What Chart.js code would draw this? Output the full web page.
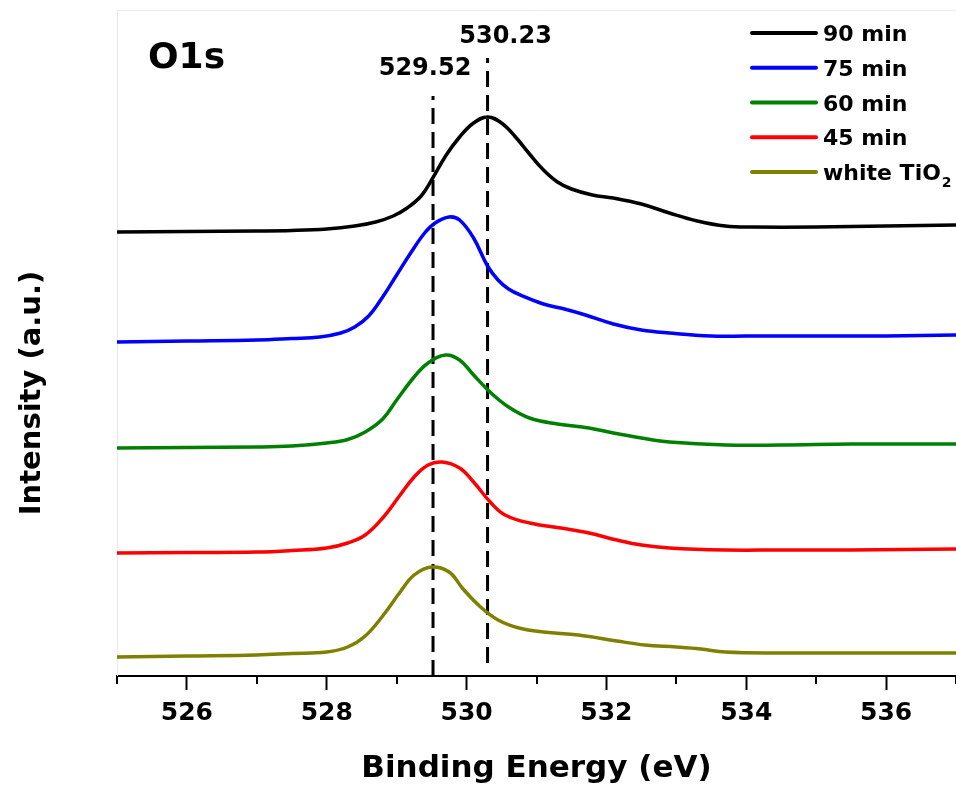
<!DOCTYPE html>
<html><head><meta charset="utf-8">
<script src="https://cdn.jsdelivr.net/npm/chart.js@4/dist/chart.umd.min.js"></script>
<style>html,body{margin:0;padding:0;background:#fff}#wrap{width:956px;height:790px}</style>
</head><body><div id="wrap"><canvas id="c" width="956" height="790"></canvas></div>
<script>
// ---- data (binding energy in eV, intensity in a.u., curves offset vertically) ----
const seriesLabels = ['90 min', '75 min', '60 min', '45 min', 'white TiO\u2082'];
const seriesColors = ['#000000', '#0000ff', '#008000', '#ff0000', '#808000'];

const energy90 = [525, 526, 527, 527.5, 528, 528.4, 528.7, 528.95, 529.15, 529.35, 529.5, 529.7, 529.9, 530.1, 530.3, 530.5, 530.7, 530.9, 531.1, 531.3, 531.5, 531.8, 532.1, 532.5, 532.9, 533.3, 533.7, 534.1, 535, 536, 537];
const intensity90 = [444, 444.5, 445, 445.5, 447, 450, 454, 460, 468, 480, 496, 520, 539, 553, 559, 553, 539, 522, 506, 494, 487, 481, 478, 472, 463, 455, 450, 449, 449, 450, 451];

const energy75 = [525, 526, 527, 527.5, 527.9, 528.2, 528.4, 528.6, 528.8, 529.0, 529.2, 529.4, 529.55, 529.75, 529.9, 530.1, 530.3, 530.45, 530.6, 530.8, 531.1, 531.4, 531.7, 532.1, 532.5, 532.9, 533.5, 534, 535, 536, 537];
const intensity75 = [334, 335, 336, 337.5, 339, 343, 349, 360, 379, 401, 423, 443, 453, 459, 456, 438, 410, 396, 387, 380, 372, 367, 361, 352, 346, 343, 340, 340, 340, 340, 341];

const energy60 = [525, 526, 527, 527.5, 528, 528.3, 528.55, 528.8, 529.0, 529.25, 529.45, 529.7, 529.9, 530.1, 530.35, 530.6, 530.9, 531.3, 531.75, 532.1, 532.5, 532.9, 533.7, 534.5, 535.5, 537];
const intensity60 = [228, 228.5, 229, 230, 233, 236.5, 244, 257, 276, 299, 313, 321, 316, 301, 283, 269, 258, 252, 248, 243, 238, 234, 231, 231, 232, 232];

const energy45 = [525, 526, 527, 527.5, 528, 528.3, 528.55, 528.8, 529.05, 529.25, 529.45, 529.65, 529.9, 530.1, 530.35, 530.55, 530.9, 531.35, 531.75, 532.15, 532.5, 532.9, 533.7, 534.5, 535.5, 537];
const intensity45 = [123, 123.5, 124, 125.5, 128, 133, 141, 158, 181, 199, 211, 214, 208, 194, 173, 161, 153, 148, 143, 136, 131, 128, 126, 126, 126, 127];

const energyWhite = [525, 526, 527, 527.5, 528, 528.3, 528.55, 528.8, 529.05, 529.25, 529.5, 529.75, 529.95, 530.2, 530.45, 530.75, 531.1, 531.6, 532.15, 532.55, 533.0, 533.35, 533.7, 534.5, 535.5, 537];
const intensityWhite = [19, 20, 21, 22.5, 24, 29, 40, 60, 84, 101, 109, 104, 87, 69, 56, 48, 44, 41, 35, 31, 29, 27, 24, 23, 23, 23];

// reference peak positions (dashed lines) and their labels
const peakPositions = [529.52, 530.3];
const peakLabels = ['529.52', '530.23'];
const peakLineTop = [580, 618];
const peakLineBottom = [0, 13];

const xTicks = [526, 528, 530, 532, 534, 536];
const panelLabel = 'O1s';

// ---- build ----
const energies = [energy90, energy75, energy60, energy45, energyWhite];
const intensities = [intensity90, intensity75, intensity60, intensity45, intensityWhite];
const FONT = '"DejaVu Sans", "Liberation Sans", Arial, sans-serif';

const datasets = seriesLabels.map((lab, i) => ({
  label: lab,
  data: energies[i].map((e, k) => ({x: e, y: intensities[i][k]})),
  borderColor: seriesColors[i],
  backgroundColor: seriesColors[i],
  borderWidth: 3.5,
  pointRadius: 0,
  tension: 0.4,
  fill: false
}));
peakPositions.forEach((p, i) => {
  datasets.push({
    label: 'peak ' + peakLabels[i],
    data: [{x: p, y: peakLineBottom[i]}, {x: p, y: peakLineTop[i]}],
    borderColor: '#000',
    borderWidth: 3,
    borderDash: [16, 8],
    pointRadius: 0,
    tension: 0,
    fill: false
  });
});

function drawCapCentered(ctx, text, x, cy, align) {
  ctx.textAlign = align;
  ctx.textBaseline = 'alphabetic';
  const m = ctx.measureText(text);
  ctx.fillText(text, x, cy + m.actualBoundingBoxAscent / 2);
}

const decor = {
  id: 'decor',
  beforeDatasetsDraw(chart) {
    const {ctx, chartArea: a} = chart;
    ctx.save();
    ctx.strokeStyle = '#ebe7eb';
    ctx.lineWidth = 1;
    ctx.beginPath();
    ctx.moveTo(a.left, a.top + 0.5);
    ctx.lineTo(a.right, a.top + 0.5);
    ctx.stroke();
    ctx.restore();
  },
  afterDraw(chart) {
    const {ctx, chartArea: a} = chart;
    const xs = chart.scales.x;
    ctx.save();
    // minor ticks (odd eV)
    ctx.strokeStyle = '#000';
    ctx.lineWidth = 2;
    for (let v = Math.ceil(xs.min); v <= xs.max; v++) {
      if (xTicks.includes(v)) continue;
      const px = Math.round(xs.getPixelForValue(v));
      ctx.beginPath();
      ctx.moveTo(px, a.bottom);
      ctx.lineTo(px, a.bottom + 8);
      ctx.stroke();
    }
    ctx.fillStyle = '#000';
    // panel label
    ctx.font = 'bold 36px ' + FONT;
    drawCapCentered(ctx, panelLabel, 148, 55, 'left');
    // peak labels
    ctx.font = 'bold 24px ' + FONT;
    drawCapCentered(ctx, peakLabels[0], xs.getPixelForValue(peakPositions[0]) - 8, 66, 'center');
    drawCapCentered(ctx, peakLabels[1], xs.getPixelForValue(peakPositions[1]) + 18, 34, 'center');
    // y axis title
    ctx.save();
    ctx.translate(29, 393);
    ctx.rotate(-Math.PI / 2);
    ctx.font = 'bold 29px ' + FONT;
    drawCapCentered(ctx, 'Intensity (a.u.)', 0, 0, 'center');
    ctx.restore();
    // legend
    const x0 = 752, x1 = 816, tx = 823, y0 = 33, dy = 34.75;
    seriesLabels.forEach((lab, i) => {
      const y = y0 + i * dy;
      ctx.strokeStyle = seriesColors[i];
      ctx.lineWidth = 4;
      ctx.lineCap = 'round';
      ctx.beginPath();
      ctx.moveTo(x0, y);
      ctx.lineTo(x1, y);
      ctx.stroke();
      ctx.fillStyle = '#000';
      ctx.font = 'bold 22px ' + FONT;
      ctx.textAlign = 'left';
      ctx.textBaseline = 'alphabetic';
      const capH = ctx.measureText('9').actualBoundingBoxAscent;
      const baseY = y + capH / 2;
      if (lab.endsWith('\u2082')) {
        const base = lab.slice(0, -1);
        ctx.fillText(base, tx, baseY);
        const w = ctx.measureText(base).width;
        ctx.font = 'bold 14px ' + FONT;
        ctx.fillText('2', tx + w + 1, baseY + 7);
      } else {
        ctx.fillText(lab, tx, baseY);
      }
    });
    ctx.restore();
  }
};

new Chart(document.getElementById('c'), {
  type: 'line',
  data: {datasets},
  options: {
    responsive: false,
    animation: false,
    devicePixelRatio: 1,
    layout: {padding: {top: 10, right: 0, left: 0, bottom: 0}},
    plugins: {legend: {display: false}, tooltip: {enabled: false}},
    scales: {
      x: {
        type: 'linear', min: 525, max: 537,
        afterBuildTicks: s => { s.ticks = xTicks.map(v => ({value: v})); },
        ticks: {autoSkip: false, maxRotation: 0, color: '#000', padding: 8,
          font: {family: FONT, size: 25, weight: 'bold'}},
        grid: {drawOnChartArea: false, tickLength: 14, tickWidth: 2, tickColor: '#000'},
        border: {color: '#000', width: 2},
        title: {display: true, text: 'Binding Energy (eV)', color: '#000',
          font: {family: FONT, size: 31, weight: 'bold'}, padding: {top: 0, bottom: 2}},
        afterFit: s => { s.height = 114; }
      },
      y: {
        min: 0, max: 666,
        ticks: {display: false},
        grid: {display: false, drawTicks: false},
        border: {color: '#ebe7eb', width: 1},
        afterFit: s => { s.width = 117; }
      }
    }
  },
  plugins: [decor]
});
</script>
</body></html>
